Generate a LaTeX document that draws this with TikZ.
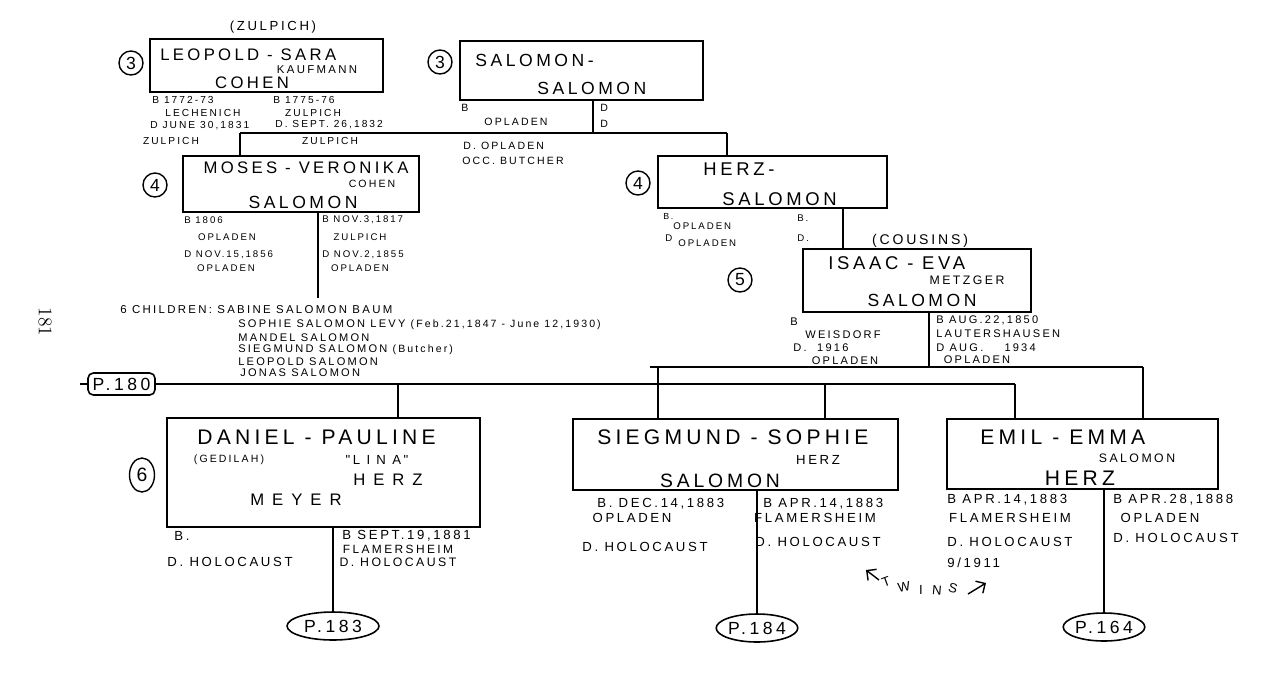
\documentclass[tikz,border=0pt]{standalone}
\usepackage{fontspec}
\newfontfamily\hand[LetterSpace=20]{Liberation Sans}
\usetikzlibrary{shapes.geometric,arrows.meta}
\begin{document}
\begin{tikzpicture}[x=0.02cm,y=-0.02cm,
  hf/.style={font=\hand\fontsize{#1}{#1}\selectfont, inner sep=0pt},
  box/.style={draw, line width=0.9pt, inner sep=0pt},
  ln/.style={line width=0.9pt},
  num/.style={draw, circle, line width=0.8pt, minimum size=0.48cm, inner sep=0pt, font=\hand\fontsize{10}{10}\selectfont},
  pg/.style={draw, ellipse, line width=0.9pt, inner sep=0pt, minimum height=0.56cm, font=\hand\fontsize{10}{10}\selectfont},
  tw/.style={hf=7.5}]
\fill[white] (0,0) rectangle (1277,684);
\useasboundingbox (0,0) rectangle (1277,684);

% ---------- generation 3 ----------
\node[hf=7.5] (zul) at (273,27) {(ZULPICH)};
\node[num] (c3a) at (131,63) {3};
\node[box, minimum width=4.66cm, minimum height=1.06cm] (ls) at (266.5,65.5) {};
\node[hf=9.5, anchor=west] (lsn) at (160,55) {LEOPOLD - SARA};
\node[hf=6.5] (lsk) at (317,70) {KAUFMANN};
\node[hf=9.5] (lsc) at (252,83) {COHEN};
\node[hf=5.8, anchor=west] (l1) at (152,100) {B 1772-73};
\node[hf=5.8] (l2) at (203,113) {LECHENICH};
\node[hf=5.8, anchor=west] (l3) at (150,126) {D JUNE 30,1831};
\node[hf=5.8] (l4) at (171,141) {ZULPICH};
\node[hf=5.8, anchor=west] (l5) at (273,100) {B 1775-76};
\node[hf=5.8] (l6) at (313,113) {ZULPICH};
\node[hf=5.8, anchor=west] (l7) at (275,125) {D. SEPT. 26,1832};
\node[hf=5.8] (l8) at (330,141) {ZULPICH};

\node[num] (c3b) at (440,62) {3};
\node[box, minimum width=4.86cm, minimum height=1.18cm] (ss) at (581.5,70.5) {};
\node[hf=10, anchor=west] (ssn1) at (475,60) {SALOMON-};
\node[hf=10, anchor=west] (ssn2) at (537,88) {SALOMON};
\node[hf=6, anchor=west] (s1) at (461,108) {B};
\node[hf=6] (s2) at (516,122) {OPLADEN};
\node[hf=6, anchor=west] (s3) at (600,108) {D};
\node[hf=6, anchor=west] (s4) at (600,124) {D};
\node[hf=6, anchor=west] (s5) at (463,146) {D. OPLADEN};
\node[hf=6, anchor=west] (s6) at (462,161) {OCC. BUTCHER};

\coordinate (a1) at (240,133);
\coordinate (a2) at (727,133);
\coordinate (a3) at (593,133);
\draw[ln] (a1) -- (a2);
\draw[ln] (ss.south -| a3) -- (a3);

% ---------- generation 4 ----------
\node[num] (c4a) at (155,185) {4};
\node[box, minimum width=4.72cm, minimum height=1.12cm] (mv) at (301,184) {};
\node[hf=9.5] (mvn) at (306,168) {MOSES - VERONIKA};
\node[hf=6] (mvc) at (372,184) {COHEN};
\node[hf=10] (mvs) at (303,202) {SALOMON};
\draw[ln] (a1) -- (a1 |- mv.north);
\node[hf=5.5, anchor=west] (m1) at (184,220) {B 1806};
\node[hf=5.5] (m2) at (227,237) {OPLADEN};
\node[hf=5.5, anchor=west] (m3) at (184,255) {D NOV.15,1856};
\node[hf=5.5] (m4) at (226,268) {OPLADEN};
\node[hf=5.5, anchor=west] (m5) at (322,220) {B NOV.3,1817};
\node[hf=5.5] (m6) at (360,237) {ZULPICH};
\node[hf=5.5, anchor=west] (m7) at (322,255) {D NOV.2,1855};
\node[hf=5.5] (m8) at (360,268) {OPLADEN};
\coordinate (md) at (318,298);
\draw[ln] (mv.south -| md) -- (md);

\node[num] (c4b) at (638,183) {4};
\node[box, minimum width=4.58cm, minimum height=1.04cm] (hs) at (772.5,182) {};
\node[hf=10.5, anchor=west] (hsn1) at (703,169) {HERZ-};
\node[hf=10.5, anchor=west] (hsn2) at (722,199) {SALOMON};
\draw[ln] (a2) -- (a2 |- hs.north);
\node[hf=5, anchor=west] (h1) at (663,216) {B.};
\node[hf=5.5, anchor=west] (h2) at (673,226) {OPLADEN};
\node[hf=5.5, anchor=west] (h3) at (665,238) {D};
\node[hf=5.5, anchor=west] (h4) at (678,243) {OPLADEN};
\node[hf=5.5, anchor=west] (h5) at (797,218) {B.};
\node[hf=5.5, anchor=west] (h6) at (797,238) {D.};
\coordinate (hd) at (843,230);

% ---------- generation 5 ----------
\node[num] (c5) at (740,280) {5};
\node[hf=8] (cous) at (920,241) {(COUSINS)};
\node[box, minimum width=4.56cm, minimum height=1.26cm] (ie) at (917,280.5) {};
\draw[ln] (hs.south -| hd) -- (ie.north -| hd);
\node[hf=10.5, anchor=west] (ien) at (828,263) {ISAAC - EVA};
\node[hf=7] (iem) at (967,280) {METZGER};
\node[hf=10] (ies) at (922,300) {SALOMON};
\node[hf=6.3, anchor=west] (i1) at (790,322) {B};
\node[hf=6.3] (i2) at (843,335) {WEISDORF};
\node[hf=6.3, anchor=west] (i3) at (793,348) {D.\ \ 1916};
\node[hf=6.3] (i4) at (845,361) {OPLADEN};
\node[hf=6.3, anchor=west] (i5) at (936,320) {B AUG.22,1850};
\node[hf=6.3, anchor=west] (i6) at (936,334) {LAUTERSHAUSEN};
\node[hf=6.3, anchor=west] (i7) at (936,348) {D AUG.\ \ \ \ 1934};
\node[hf=6.3] (i8) at (977,360) {OPLADEN};

% ---------- children of Moses ----------
\node[font=\fontsize{11}{11}\selectfont, rotate=-90, inner sep=0pt] (p181) at (45,322) {181};
\node[hf=6.5, anchor=west] (ch1) at (120,310) {6 CHILDREN: SABINE SALOMON BAUM};
\node[hf=6.3, anchor=west] (ch2) at (238,325) {SOPHIE SALOMON LEVY \fontsize{6}{6}\selectfont(Feb.21,1847 - June 12,1930)};
\node[hf=6.3, anchor=west] (ch3) at (238,338) {MANDEL SALOMON};
\node[hf=6.3, anchor=west] (ch4) at (238,350) {SIEGMUND SALOMON \fontsize{6}{6}\selectfont(Butcher)};
\node[hf=6.3, anchor=west] (ch5) at (238,362) {LEOPOLD SALOMON};
\node[hf=6.3, anchor=west] (ch6) at (240,373) {JONAS SALOMON};

% ---------- connector lines ----------
\node[draw, line width=0.9pt, rounded corners=3pt, minimum width=1.34cm, minimum height=0.44cm, inner sep=0pt, font=\hand\fontsize{10}{10}\selectfont] (p180) at (121.5,384) {P.180};
\coordinate (B0) at (80,384);
\coordinate (B1) at (398,384);
\coordinate (B2) at (825,384);
\coordinate (B3) at (1015,384);
\draw[ln] (B0) -- (p180.west);
\draw[ln] (p180.east) -- (B3);

\coordinate (ed) at (929,367);
\draw[ln] (ie.south -| ed) -- (ed);
\coordinate (A0) at (650,367);
\coordinate (A1) at (658,367);
\coordinate (A2) at (1143,367);
\draw[ln] (A0) -- (A2);

% ---------- generation 6 ----------
\node[draw, ellipse, line width=0.8pt, minimum width=0.5cm, minimum height=0.68cm, inner sep=0pt, font=\hand\fontsize{11}{11}\selectfont] (c6) at (142,475) {6};
\node[box, minimum width=6.26cm, minimum height=2.18cm] (dp) at (323.5,472.5) {};
\node[hf=12, anchor=west] (dpn) at (197,437) {DANIEL - PAULINE};
\node[hf=6] (dpg) at (229,460) {(GEDILAH)};
\node[hf=7.5] (dpl) at (377,460) {"L I N A"};
\node[hf=9.5] (dph) at (388,480) {H E R Z};
\node[hf=9.5] (dpm) at (296,500) {M E Y E R};
\draw[ln] (B1) -- (B1 |- dp.north);
\node[hf=7.5, anchor=west] (d1) at (174,536) {B.};
\node[hf=7.5] (d2) at (230,562) {D. HOLOCAUST};
\node[hf=7.5, anchor=west] (d3) at (342,536) {B SEPT.19,1881};
\node[hf=6.8] (d4) at (398,549) {FLAMERSHEIM};
\node[hf=7] (d5) at (398,562) {D. HOLOCAUST};
\node[pg, minimum width=1.84cm] (p183) at (333,626) {P.183};
\draw[ln] (dp.south -| p183) -- (p183.north);

\node[box, minimum width=6.5cm, minimum height=1.42cm] (sg) at (735.5,454.5) {};
\node[hf=12, anchor=west] (sgn) at (597,437) {SIEGMUND - SOPHIE};
\node[hf=7.5] (sgh) at (818,460) {HERZ};
\node[hf=11] (sgs) at (720,481) {SALOMON};
\draw[ln] (A1) -- (A1 |- sg.north);
\draw[ln] (B2) -- (B2 |- sg.north);
\node[hf=7.5, anchor=west] (g1) at (597,504) {B. DEC.14,1883};
\node[hf=7.5] (g2) at (632,518) {OPLADEN};
\node[hf=7.5] (g3) at (645,547) {D. HOLOCAUST};
\node[hf=7.5, anchor=west] (g4) at (763,504) {B APR.14,1883};
\node[hf=7.5] (g5) at (815,518) {FLAMERSHEIM};
\node[hf=7.5] (g6) at (818,542) {D. HOLOCAUST};
\node[pg, minimum width=1.4cm] (p184) at (757,628) {P.184};
\draw[ln] (sg.south -| p184) -- (p184.north);

\node[box, minimum width=5.42cm, minimum height=1.4cm] (ee) at (1082.5,454) {};
\node[hf=12, anchor=west] (een) at (980,437) {EMIL - EMMA};
\node[hf=7] (ees) at (1137,458) {SALOMON};
\node[hf=12] (eeh) at (1080,478) {HERZ};
\draw[ln] (A2) -- (A2 |- ee.north);
\draw[ln] (B3) -- (B3 |- ee.north);
\node[hf=7.5, anchor=west] (e1) at (947,500) {B APR.14,1883};
\node[hf=7.5] (e2) at (1010,518) {FLAMERSHEIM};
\node[hf=7.5, anchor=west] (e3) at (947,542) {D. HOLOCAUST};
\node[hf=7.5, anchor=west] (e4) at (947,563) {9/1911};
\node[hf=7.5, anchor=west] (e5) at (1113,500) {B APR.28,1888};
\node[hf=7.5] (e6) at (1160,518) {OPLADEN};
\node[hf=7.5, anchor=west] (e7) at (1113,538) {D. HOLOCAUST};
\node[pg, minimum width=1.5cm] (p164) at (1104,627) {P.164};
\draw[ln] (ee.south -| p164) -- (p164.north);

% ---------- twins ----------
\node[tw, rotate=20] (tw1) at (886,582) {T};
\node[tw, rotate=10] (tw2) at (904,587) {W};
\node[tw] (tw3) at (921,590) {I};
\node[tw, rotate=-5] (tw4) at (937,590) {N};
\node[tw, rotate=-15] (tw5) at (953,588) {S};
\coordinate (ta1) at (879,580);
\coordinate (ta2) at (866,570);
\coordinate (tb1) at (968,594);
\coordinate (tb2) at (986,583);
\draw[line width=0.8pt, -{Straight Barb[length=4pt]}] (ta1) -- (ta2);
\draw[line width=0.8pt, -{Straight Barb[length=4pt]}] (tb1) -- (tb2);
\end{tikzpicture}
\end{document}
